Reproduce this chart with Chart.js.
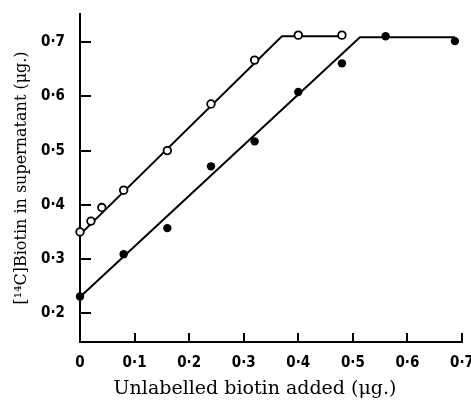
<!DOCTYPE html>
<html>
<head>
  <meta charset="utf-8">
  <title>Biotin in supernatant</title>
  <script src="https://cdn.jsdelivr.net/npm/chart.js"></script>
  <style>
    html, body { margin: 0; padding: 0; background: #fff; }
    #wrap { width: 471px; height: 400px; }
  </style>
</head>
<body>
  <div id="wrap"><canvas id="biotinChart" width="471" height="400"></canvas></div>

  <script>
    // open circles
    const openX = [0, 0.02, 0.04, 0.08, 0.16, 0.24, 0.32, 0.40, 0.48];
    const openY = [0.350, 0.370, 0.395, 0.427, 0.500, 0.586, 0.667, 0.713, 0.713];
    // filled circles
    const filledX = [0, 0.08, 0.16, 0.24, 0.32, 0.40, 0.48, 0.56, 0.687];
    const filledY = [0.231, 0.309, 0.357, 0.471, 0.517, 0.608, 0.661, 0.711, 0.702];
    // fitted lines (drawn by hand in the original)
    const openFitX = [0, 0.37, 0.484];
    const openFitY = [0.345, 0.711, 0.711];
    const filledFitX = [0, 0.513, 0.687];
    const filledFitY = [0.230, 0.709, 0.709];

    const xTicks = [0, 0.1, 0.2, 0.3, 0.4, 0.5, 0.6, 0.7];
    const yTicks = [0.2, 0.3, 0.4, 0.5, 0.6, 0.7];

    const xTitle = 'Unlabelled biotin added (\u03bcg.)';
    const yTitle = '[\u00b9\u2074C]Biotin in supernatant (\u03bcg.)';

    function pairs(xs, ys) {
      return xs.map((x, i) => ({ x: x, y: ys[i] }));
    }

    function fmt(v) {
      if (Math.abs(v) < 1e-9) return '0';
      return v.toFixed(1).replace('.', '\u00b7');
    }

    // inward tick marks + x title
    const extras = {
      id: 'extras',
      afterDraw(chart) {
        const ctx = chart.ctx;
        const xs = chart.scales.x, ys = chart.scales.y;
        const area = chart.chartArea;
        ctx.save();
        ctx.strokeStyle = '#000';
        ctx.lineWidth = 2;
        ctx.beginPath();
        yTicks.forEach(v => {
          const py = Math.round(ys.getPixelForValue(v));
          ctx.moveTo(area.left, py);
          ctx.lineTo(area.left + 11, py);
        });
        xTicks.forEach(v => {
          const px = Math.round(xs.getPixelForValue(v));
          ctx.moveTo(px, area.bottom);
          ctx.lineTo(px, area.bottom - 9);
        });
        ctx.stroke();

        ctx.fillStyle = '#000';
        ctx.font = '19px "DejaVu Serif"';
        ctx.textAlign = 'center';
        ctx.textBaseline = 'alphabetic';
        ctx.fillText(xTitle, 255, 394);
        ctx.restore();
      }
    };

    const tickFont = { family: '"DejaVu Sans Condensed", "DejaVu Sans"', size: 15, weight: 'bold' };

    const ctx = document.getElementById('biotinChart').getContext('2d');
    const chart = new Chart(ctx, {
      type: 'scatter',
      data: {
        datasets: [
          {
            label: 'open',
            data: pairs(openX, openY),
            showLine: false,
            clip: false,
            pointRadius: 3.8,
            pointBorderWidth: 1.8,
            pointBackgroundColor: '#fff',
            pointBorderColor: '#000',
            order: 0
          },
          {
            label: 'filled',
            data: pairs(filledX, filledY),
            showLine: false,
            clip: false,
            pointRadius: 4.2,
            pointBorderWidth: 0,
            pointBackgroundColor: '#000',
            pointBorderColor: '#000',
            order: 0
          },
          {
            label: 'open fit',
            data: pairs(openFitX, openFitY),
            showLine: true,
            clip: false,
            borderColor: '#000',
            borderWidth: 2,
            pointRadius: 0,
            order: 1
          },
          {
            label: 'filled fit',
            data: pairs(filledFitX, filledFitY),
            showLine: true,
            clip: false,
            borderColor: '#000',
            borderWidth: 2,
            pointRadius: 0,
            order: 1
          }
        ]
      },
      options: {
        responsive: false,
        animation: false,
        layout: { padding: { top: 14, right: 9, left: 0, bottom: 0 } },
        plugins: {
          legend: { display: false },
          tooltip: { enabled: false }
        },
        scales: {
          x: {
            type: 'linear',
            min: 0,
            max: 0.7,
            grid: { display: false },
            border: { display: true, color: '#000', width: 2 },
            afterBuildTicks: (scale) => { scale.ticks = xTicks.map(v => ({ value: v })); },
            afterFit: (scale) => {
              scale.height = 58;
              scale.paddingLeft = 0;
              scale.paddingRight = 0;
            },
            ticks: {
              padding: 4,
              color: '#000',
              maxRotation: 0,
              autoSkip: false,
              font: tickFont,
              callback: (v) => fmt(v)
            }
          },
          y: {
            type: 'linear',
            min: 0.147,
            max: 0.752,
            grid: { display: false },
            border: { display: true, color: '#000', width: 2 },
            afterBuildTicks: (scale) => { scale.ticks = yTicks.map(v => ({ value: v })); },
            afterFit: (scale) => {
              scale.width = 80;
              scale.paddingTop = 0;
              scale.paddingBottom = 0;
            },
            title: {
              display: true,
              text: yTitle,
              color: '#000',
              padding: { top: 12, bottom: 0 },
              font: { family: 'DejaVu Serif', size: 16 }
            },
            ticks: {
              padding: 7,
              color: '#000',
              font: tickFont,
              callback: (v) => fmt(v)
            }
          }
        }
      },
      plugins: [extras]
    });
  </script>
</body>
</html>
